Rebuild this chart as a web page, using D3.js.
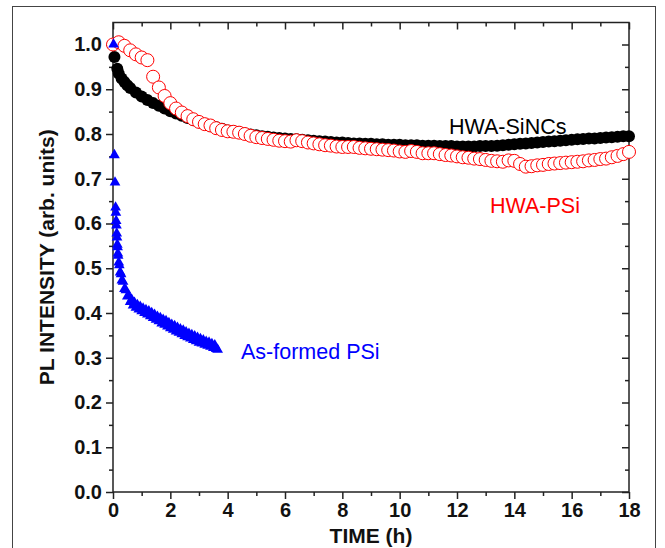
<!DOCTYPE html>
<html lang="en">
<head>
<meta charset="UTF-8">
<title>PL intensity vs time</title>
<script src="https://d3js.org/d3.v7.min.js"></script>
<style>
  body { margin: 0; background: #fff; }
  svg { display: block; font-family: "Liberation Sans", Arial, sans-serif; }
  .tick text { font-size: 20px; font-weight: bold; fill: #111; }
  .tick line { stroke: #222; stroke-width: 1.5; }
  .axis-title { font-size: 21px; font-weight: bold; fill: #111; }
  .series-label { font-size: 21.5px; }
</style>
</head>
<body>
<svg id="chart" width="665" height="548"></svg>
<script>
// ---- data ----
const xMajorTicks = [0, 2, 4, 6, 8, 10, 12, 14, 16, 18];
const xMinorTicks = [1, 3, 5, 7, 9, 11, 13, 15, 17];
const yMajorTicks = [0, 0.1, 0.2, 0.3, 0.4, 0.5, 0.6, 0.7, 0.8, 0.9, 1.0];
const yMinorTicks = [0.05, 0.15, 0.25, 0.35, 0.45, 0.55, 0.65, 0.75, 0.85, 0.95];

// HWA-SiNCs (black filled circles)
const sincsTime = [0.05, 0.15, 0.2, 0.3, 0.4, 0.5, 0.6, 0.8, 1.0, 1.2, 1.4, 1.6, 1.8, 2.0,
  2.2, 2.4, 2.6, 2.8, 3.0, 3.2, 3.4, 3.6, 3.8, 4.0, 4.2, 4.4, 4.6, 4.8, 5.0,
  5.2, 5.4, 5.6, 5.8, 6.0, 6.2, 6.4, 6.6, 6.8, 7.0, 7.2, 7.4, 7.6, 7.8, 8.0,
  8.2, 8.4, 8.6, 8.8, 9.0, 9.2, 9.4, 9.6, 9.8, 10.0, 10.2, 10.4, 10.6, 10.8, 11.0,
  11.2, 11.4, 11.6, 11.8, 12.0, 12.2, 12.4, 12.6, 12.8, 13.0, 13.2, 13.4, 13.6, 13.8, 14.0,
  14.2, 14.4, 14.6, 14.8, 15.0, 15.2, 15.4, 15.6, 15.8, 16.0, 16.2, 16.4, 16.6, 16.8, 17.0,
  17.2, 17.4, 17.6, 17.8, 18.0];
const sincsPL = [0.972, 0.946, 0.935, 0.924, 0.916, 0.909, 0.903, 0.893, 0.884, 0.876, 0.869, 0.863, 0.857, 0.851,
  0.846, 0.841, 0.836, 0.831, 0.826, 0.822, 0.818, 0.815, 0.812, 0.808, 0.806, 0.804, 0.801, 0.799, 0.797,
  0.795, 0.794, 0.792, 0.791, 0.790, 0.789, 0.788, 0.787, 0.786, 0.785, 0.784, 0.783, 0.782, 0.781, 0.781,
  0.780, 0.779, 0.779, 0.778, 0.778, 0.777, 0.777, 0.776, 0.776, 0.776, 0.775, 0.775, 0.775, 0.774, 0.774,
  0.774, 0.773, 0.773, 0.773, 0.772, 0.772, 0.772, 0.772, 0.773, 0.773, 0.773, 0.774, 0.775, 0.776, 0.777,
  0.778, 0.779, 0.780, 0.781, 0.782, 0.783, 0.784, 0.785, 0.786, 0.787, 0.788, 0.789, 0.790, 0.790, 0.791,
  0.792, 0.793, 0.794, 0.795, 0.795];

// HWA-PSi (red open circles)
const psiTime = [0.0, 0.2, 0.4, 0.6, 0.8, 1.0, 1.2, 1.4, 1.6, 1.8, 2.0, 2.2, 2.4, 2.6, 2.8,
  3.0, 3.2, 3.4, 3.6, 3.8, 4.0, 4.2, 4.4, 4.6, 4.8, 5.0, 5.2, 5.4, 5.6, 5.8,
  6.0, 6.2, 6.4, 6.6, 6.8, 7.0, 7.2, 7.4, 7.6, 7.8, 8.0, 8.2, 8.4, 8.6, 8.8,
  9.0, 9.2, 9.4, 9.6, 9.8, 10.0, 10.2, 10.4, 10.6, 10.8, 11.0, 11.2, 11.4, 11.6, 11.8,
  12.0, 12.2, 12.4, 12.6, 12.8, 13.0, 13.2, 13.4, 13.6, 13.8, 14.0, 14.2, 14.4, 14.6, 14.8,
  15.0, 15.2, 15.4, 15.6, 15.8, 16.0, 16.2, 16.4, 16.6, 16.8, 17.0, 17.2, 17.4, 17.6, 17.8, 18.0];
const psiPL = [1.000, 1.005, 0.997, 0.987, 0.978, 0.971, 0.965, 0.928, 0.904, 0.885, 0.869, 0.857, 0.848, 0.840, 0.833,
  0.827, 0.822, 0.819, 0.813, 0.809, 0.806, 0.805, 0.803, 0.800, 0.796, 0.793, 0.791, 0.789, 0.787, 0.785,
  0.784, 0.783, 0.786, 0.784, 0.781, 0.779, 0.777, 0.775, 0.774, 0.772, 0.771, 0.771, 0.771, 0.769, 0.768,
  0.767, 0.766, 0.765, 0.764, 0.763, 0.761, 0.760, 0.762, 0.760, 0.757, 0.757, 0.757, 0.755, 0.753, 0.752,
  0.750, 0.748, 0.747, 0.745, 0.744, 0.742, 0.740, 0.739, 0.738, 0.741, 0.740, 0.733, 0.727, 0.728, 0.730,
  0.731, 0.733, 0.734, 0.735, 0.736, 0.737, 0.738, 0.739, 0.741, 0.742, 0.744, 0.745, 0.748, 0.751, 0.755, 0.760];

// As-formed PSi (blue triangles)
const asTime = [0.02, 0.05, 0.07, 0.09, 0.10, 0.11, 0.12, 0.13, 0.14, 0.15, 0.16, 0.17, 0.18, 0.20,
  0.22, 0.25, 0.28, 0.31, 0.35, 0.40, 0.45, 0.50, 0.55, 0.60, 0.65, 0.70, 0.75, 0.80, 0.85,
  0.90, 0.95, 1.00, 1.05, 1.10, 1.15, 1.20, 1.25, 1.30, 1.35, 1.40, 1.45, 1.50, 1.55, 1.60,
  1.65, 1.70, 1.75, 1.80, 1.85, 1.90, 1.95, 2.00, 2.05, 2.10, 2.15, 2.20, 2.25, 2.30, 2.35,
  2.40, 2.45, 2.50, 2.55, 2.60, 2.65, 2.70, 2.75, 2.80, 2.85, 2.90, 2.95, 3.00, 3.05, 3.10,
  3.15, 3.20, 3.25, 3.30, 3.35, 3.40, 3.45, 3.50, 3.55, 3.60, 3.65];
const asPL = [1.000, 0.753, 0.692, 0.636, 0.624, 0.606, 0.596, 0.578, 0.569, 0.553, 0.547, 0.533, 0.528, 0.513,
  0.507, 0.491, 0.487, 0.473, 0.470, 0.454, 0.451, 0.437, 0.438, 0.425, 0.430, 0.417, 0.423, 0.412, 0.418,
  0.408, 0.414, 0.404, 0.410, 0.400, 0.407, 0.397, 0.404, 0.393, 0.400, 0.389, 0.396, 0.385, 0.392, 0.382,
  0.389, 0.377, 0.385, 0.374, 0.382, 0.370, 0.378, 0.366, 0.374, 0.363, 0.371, 0.359, 0.367, 0.356, 0.364,
  0.353, 0.361, 0.349, 0.357, 0.346, 0.354, 0.343, 0.351, 0.340, 0.348, 0.337, 0.345, 0.334, 0.342, 0.332,
  0.339, 0.329, 0.336, 0.327, 0.334, 0.325, 0.331, 0.322, 0.328, 0.320, 0.318];

// ---- layout ----
const plot = { left: 113, right: 629, top: 22.5, bottom: 492 };

const svg = d3.select("#chart");

// outer frame of the figure
svg.append("rect")
   .attr("x", 12.5).attr("y", 6.5)
   .attr("width", 643).attr("height", 560)
   .attr("fill", "none")
   .attr("stroke", "#444")
   .attr("stroke-width", 1);

const x = d3.scaleLinear().domain([0, 18]).range([plot.left, plot.right]);
const y = d3.scaleLinear().domain([0, 1]).range([plot.bottom, 44.5]);

// axes: labels on bottom/left, mirrored ticks on top/right (all pointing the same way)
function axisGroup(axis, tx, ty) {
    const g = svg.append("g")
        .attr("transform", `translate(${tx},${ty})`)
        .call(axis);
    g.select(".domain").remove();
    return g;
}

axisGroup(d3.axisBottom(x).tickValues(xMajorTicks).tickSize(7).tickPadding(4).tickFormat(d3.format("d")), 0, plot.bottom);
axisGroup(d3.axisBottom(x).tickValues(xMinorTicks).tickSize(4).tickFormat(""), 0, plot.bottom);
axisGroup(d3.axisTop(x).tickValues(xMajorTicks).tickSize(-7).tickFormat(""), 0, plot.top);
axisGroup(d3.axisTop(x).tickValues(xMinorTicks).tickSize(-4).tickFormat(""), 0, plot.top);

axisGroup(d3.axisLeft(y).tickValues(yMajorTicks).tickSize(7).tickPadding(4).tickFormat(d3.format(".1f")), plot.left, 0);
axisGroup(d3.axisLeft(y).tickValues(yMinorTicks).tickSize(4).tickFormat(""), plot.left, 0);
axisGroup(d3.axisRight(y).tickValues(yMajorTicks).tickSize(-7).tickFormat(""), plot.right, 0);
axisGroup(d3.axisRight(y).tickValues(yMinorTicks).tickSize(-4).tickFormat(""), plot.right, 0);

// plot frame
svg.append("rect")
   .attr("x", plot.left).attr("y", plot.top)
   .attr("width", plot.right - plot.left)
   .attr("height", plot.bottom - plot.top)
   .attr("fill", "none")
   .attr("stroke", "#222")
   .attr("stroke-width", 1.5);

// data marks
const marks = svg.append("g");

marks.selectAll(".sincs")
     .data(d3.zip(sincsTime, sincsPL))
     .join("circle")
     .attr("class", "sincs")
     .attr("cx", d => x(d[0]))
     .attr("cy", d => y(d[1]))
     .attr("r", 6)
     .attr("fill", "#000");

marks.selectAll(".psi")
     .data(d3.zip(psiTime, psiPL))
     .join("circle")
     .attr("class", "psi")
     .attr("cx", d => x(d[0]))
     .attr("cy", d => y(d[1]))
     .attr("r", 6.5)
     .attr("fill", "#fff")
     .attr("stroke", "#f00")
     .attr("stroke-width", 1);

const tri = d3.symbol().type(d3.symbolTriangle).size(50);
marks.selectAll(".asformed")
     .data(d3.zip(asTime, asPL))
     .join("path")
     .attr("class", "asformed")
     .attr("transform", d => `translate(${x(d[0])},${y(d[1])})`)
     .attr("d", tri)
     .attr("fill", "#0000ff");

// series labels
svg.append("text").attr("class", "series-label")
   .attr("x", 449).attr("y", 134).attr("fill", "#000").text("HWA-SiNCs");
svg.append("text").attr("class", "series-label")
   .attr("x", 490).attr("y", 213).attr("fill", "#f00").text("HWA-PSi");
svg.append("text").attr("class", "series-label")
   .attr("x", 241).attr("y", 359).attr("fill", "#0000ff").text("As-formed PSi");

// axis titles
svg.append("text").attr("class", "axis-title")
   .attr("x", (plot.left + plot.right) / 2).attr("y", 543)
   .attr("text-anchor", "middle").text("TIME (h)");
svg.append("text").attr("class", "axis-title")
   .attr("transform", `translate(54,${(plot.top + plot.bottom) / 2}) rotate(-90)`)
   .attr("text-anchor", "middle").text("PL INTENSITY (arb. units)");
</script>
</body>
</html>
